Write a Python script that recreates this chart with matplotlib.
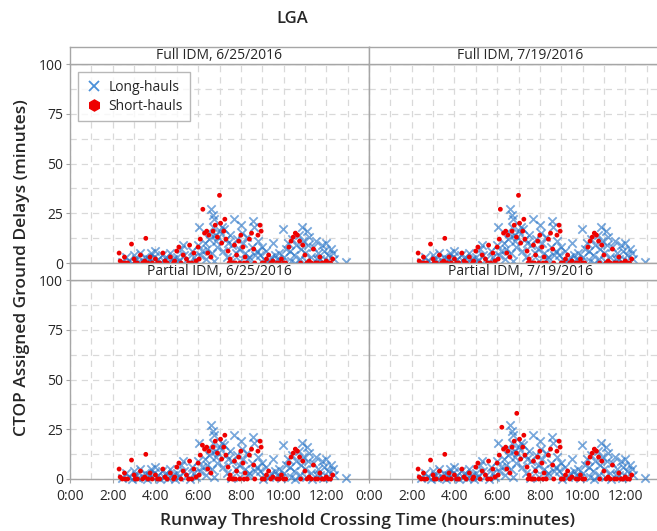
import matplotlib
matplotlib.use("Agg")
import matplotlib.pyplot as plt
from matplotlib.lines import Line2D
from matplotlib.ticker import FixedLocator, MultipleLocator

plt.rcParams['font.family'] = ['Open Sans', 'DejaVu Sans']

# ---------------- data (hours after 0:00, delay in minutes) ----------------
long_hours = [2.45, 2.6, 2.75, 2.9, 3.0, 3.1, 3.2, 3.3, 3.4, 3.5, 3.6, 3.7, 3.8, 3.85, 3.95,
              4.0, 4.1, 4.2, 4.3, 4.4, 4.5, 4.6, 4.7, 4.8, 4.9, 5.0, 5.1, 5.2, 5.3, 5.35,
              5.5, 5.6, 5.7, 5.8, 5.9,
              6.0, 6.05, 6.1, 6.2, 6.3, 6.35, 6.4, 6.5, 6.55, 6.6, 6.65, 6.7, 6.72, 6.75,
              6.7, 6.8, 6.85, 6.9, 6.95, 7.0,
              7.1, 7.15, 7.2, 7.3, 7.35, 7.4, 7.5, 7.55, 7.6, 7.7, 7.75, 7.8, 7.9, 7.95,
              8.0, 8.05, 8.1, 8.2, 8.3, 8.35, 8.4, 8.5, 8.55, 8.6, 8.65,
              8.75, 8.8, 8.9, 9.0, 9.05, 9.1, 9.2, 9.3, 9.4, 9.5, 9.6, 9.7, 9.8, 9.9,
              9.96, 10.0, 10.1,
              10.2, 10.3, 10.35, 10.4, 10.5, 10.55, 10.6, 10.7, 10.75, 10.8, 10.86, 10.9,
              11.0, 11.05, 11.1, 11.15, 11.2, 11.3, 11.35, 11.4, 11.5, 11.55, 11.6, 11.7,
              11.8, 11.85, 11.9, 12.0, 12.05, 12.1, 12.2, 12.3, 12.35, 12.9]
long_delay = [0.5, 3, 1, 0, 4, 2, 0.5, 5, 1, 3, 0, 2, 5, 1, 3,
              6, 2, 0, 4, 1, 3, 0.5, 5, 2, 0, 3, 1, 7, 9, 4,
              2, 0, 6, 3, 1,
              9, 18, 4, 6, 10, 2, 7, 12, 15, 27, 5, 24, 1, 22,
              18, 14, 11, 8, 13, 16,
              18, 6, 17, 12, 3, 10, 14, 0.5, 9, 22, 5, 12, 7, 1,
              19, 15, 10, 5, 13, 2, 3, 8, 21, 18, 4,
              6, 11, 4, 8, 0, 2, 6, 1, 3, 10, 4, 2, 5, 0.5,
              17, 3, 7,
              10, 6, 1, 12, 4, 0, 9, 14, 2, 7, 18, 11,
              5, 1, 16, 9, 13, 3, 0, 8, 11, 2, 5, 2,
              9, 0.5, 6, 10, 1, 4, 7, 5, 2, 0.5]

short_hours = [2.3, 2.35, 2.45, 2.55, 2.6, 2.7, 2.88, 3.0, 3.05, 3.15, 3.3, 3.4, 3.5, 3.55,
               3.65, 3.75, 3.85, 4.0, 4.1, 4.2, 4.35, 4.45, 4.55, 4.7, 4.85, 4.9, 5.0, 5.1,
               5.2, 5.3, 5.45, 5.55, 5.6, 5.7, 5.8, 5.9,
               6.0, 6.05, 6.1, 6.3, 6.4, 6.45, 6.5, 6.6, 6.7, 6.8, 6.9, 7.05, 7.1, 7.2,
               7.25, 7.3, 7.4, 7.45, 7.5, 7.6, 7.65, 7.7, 7.75, 7.8, 7.9, 7.95, 8.0, 8.1,
               8.15, 8.2, 8.3, 8.4, 8.5, 8.6, 8.65, 8.8, 8.9, 8.95, 9.0, 9.1, 9.2, 9.3,
               9.4, 9.5, 9.7, 9.8, 9.9, 10.0, 10.1, 10.25, 10.35, 10.45, 10.55, 10.65,
               10.75, 10.8, 10.9, 11.0, 11.1, 11.2, 11.3, 11.4, 11.5, 11.6, 11.7, 11.8,
               11.9, 12.0, 12.1, 12.2, 12.3]
short_delay = [5, 1, 0, 3, 0, 0, 9.5, 2, 0, 0, 4, 0, 1, 12.4,
               0, 3, 0, 2, 0, 0, 5, 1, 0, 3, 0, 1, 6, 8,
               0, 4, 2, 0, 9, 0, 5, 1,
               8, 2, 12, 15, 16, 5, 14, 3, 16, 19, 13, 20, 10, 16,
               22, 12, 6, 0, 2, 0, 0, 9, 0, 4, 11, 0, 14, 8,
               0, 3, 0, 12, 15, 7, 0, 14, 19, 16, 0, 0, 2, 4,
               0, 1, 0, 0, 2, 0, 0, 8, 11, 13, 15, 14,
               11, 0, 9, 4, 0, 1, 0, 7, 0, 0, 3, 0,
               0, 1, 0, 0, 2]

# panel-specific short-haul outliers
panel_titles = ["Full IDM, 6/25/2016", "Full IDM, 7/19/2016",
                "Partial IDM, 6/25/2016", "Partial IDM, 7/19/2016"]
extra_short_hours = [[6.22, 7.0], [6.15, 7.0], [6.2], [6.22, 6.92]]
extra_short_delay = [[27, 34], [27, 34], [17], [26, 33]]

x_tick_hours = [0, 2, 4, 6, 8, 10, 12]
x_tick_labels = ["0:00", "2:00", "4:00", "6:00", "8:00", "10:00", "12:00"]
y_ticks = [0, 25, 50, 75, 100]

# ---------------- layout ----------------
W, H = 657, 531
fig = plt.figure(figsize=(W / 100, H / 100), dpi=100)

def fbox(x0, y0, x1, y1):
    return [x0 / W, 1 - y1 / H, (x1 - x0) / W, (y1 - y0) / H]

panel_px = [(70, 64, 369, 263), (369, 64, 668, 263),
            (70, 280, 369, 479), (369, 280, 668, 479)]
strip_h = 17

edge = '#A6A6A6'
grid_c = '#D9D9D9'
blue = '#1F6FC5'
red = '#EE0000'
txt = '#262626'

for i, (x0, y0, x1, y1) in enumerate(panel_px):
    ax = fig.add_axes(fbox(x0, y0, x1, y1))
    ax.set_xlim(0, 14)
    ax.set_ylim(0, 100)
    ax.xaxis.set_major_locator(FixedLocator(x_tick_hours))
    ax.xaxis.set_minor_locator(MultipleLocator(1))
    ax.yaxis.set_major_locator(FixedLocator(y_ticks))
    ax.yaxis.set_minor_locator(MultipleLocator(12.5))
    ax.grid(True, which='both', color=grid_c, linestyle=(0, (5, 4)), linewidth=0.9)
    ax.set_axisbelow(True)
    for s in ax.spines.values():
        s.set_color(edge)
        s.set_linewidth(1.0)
    ax.tick_params(which='major', length=3, color=edge, labelsize=10, labelcolor=txt, pad=2)
    ax.tick_params(axis='x', which='major', pad=4)
    ax.tick_params(which='minor', length=0)
    if i in (2, 3):
        ax.set_xticklabels(x_tick_labels)
    else:
        ax.set_xticklabels([])
    if i in (0, 2):
        ax.set_yticklabels([str(v) for v in y_ticks])
    else:
        ax.tick_params(axis='y', which='major', length=0)
        ax.set_yticklabels([])

    ax.scatter(long_hours, long_delay, marker='x', s=36, linewidths=1.3,
               color=blue, alpha=0.6, zorder=3, clip_on=False)
    ax.scatter(short_hours + extra_short_hours[i], short_delay + extra_short_delay[i],
               marker='o', s=12, color=red, edgecolors='none', zorder=4, clip_on=False)

    if i == 0:
        handles = [Line2D([], [], marker='x', linestyle='none', color='#4A90D9',
                          markersize=7, markeredgewidth=1.3),
                   Line2D([], [], marker='h', linestyle='none', color=red,
                          markersize=8)]
        leg = ax.legend(handles, ["Long-hauls", "Short-hauls"], loc='upper left',
                        bbox_to_anchor=(0.005, 0.995), fontsize=10, frameon=True,
                        fancybox=False, edgecolor=edge, handletextpad=0.4,
                        borderpad=0.55, labelspacing=0.3, handlelength=1.2)
        leg.get_frame().set_linewidth(1.0)
        for t in leg.get_texts():
            t.set_color(txt)

    sax = fig.add_axes(fbox(x0, y0 - strip_h, x1, y0))
    sax.set_xticks([])
    sax.set_yticks([])
    sax.set_facecolor('white')
    for s in sax.spines.values():
        s.set_color(edge)
        s.set_linewidth(1.0)
    tx = 0.5 if i in (0, 2) else (520 - x0) / (x1 - x0)
    sax.text(tx, 0.5, panel_titles[i], ha='center', va='center',
             fontsize=10, color=txt, transform=sax.transAxes)

fig.text(292 / W, 1 - 19 / H, "LGA", ha='center', va='center', fontsize=12,
         fontweight='semibold', color=txt)
fig.text(22 / W, 1 - 268 / H, "CTOP Assigned Ground Delays (minutes)", rotation=90,
         ha='center', va='center', fontsize=12.5, fontweight='semibold', color=txt)
fig.text(368 / W, 1 - 521 / H, "Runway Threshold Crossing Time (hours:minutes)",
         ha='center', va='center', fontsize=12.5, fontweight='semibold', color=txt)

fig.savefig("out.png", dpi=100)
